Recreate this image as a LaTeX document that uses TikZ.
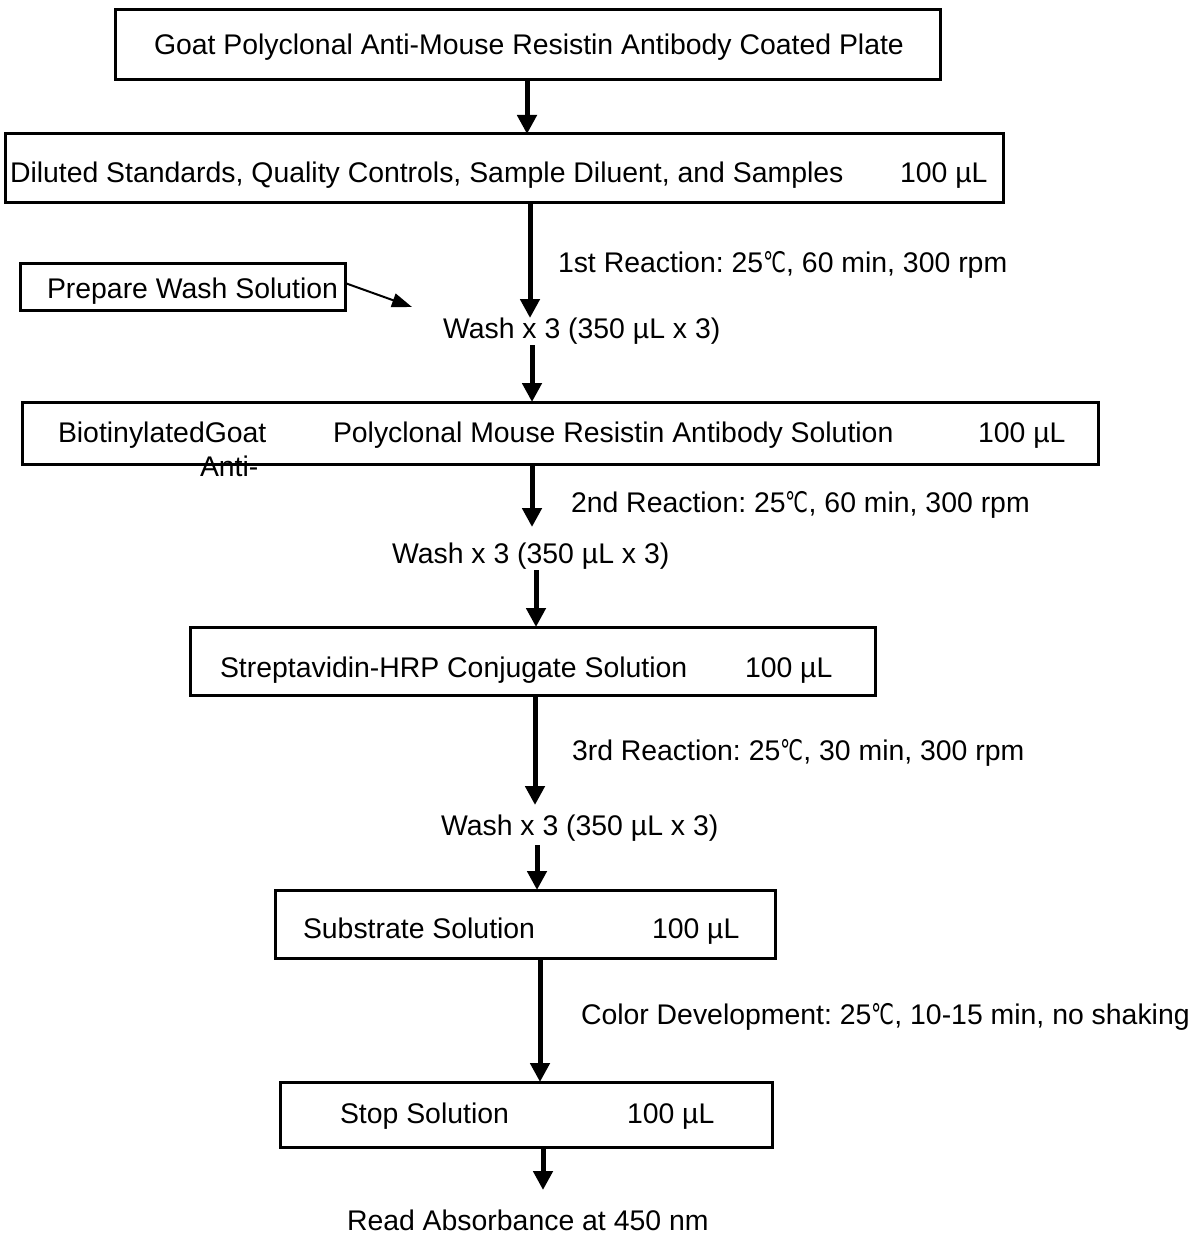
\documentclass[tikz,border=0pt]{standalone}
\usepackage{fontspec}
\usepackage{graphicx}
\setmainfont{Liberation Sans}
\newfontfamily\dvsfont{DejaVu Sans}
\usetikzlibrary{arrows.meta,calc}
\newcommand\mydegC{\scalebox{0.72}[1]{\dvsfont ℃}}
\begin{document}
\frenchspacing
\begin{tikzpicture}[x=1pt,y=-1pt,
  every node/.style={inner sep=0pt, outer sep=0pt},
  txt/.style={font=\fontsize{28.4}{34}\selectfont\frenchspacing, anchor=base west},
  box/.style={draw, line width=3pt, rectangle},
  bigarrow/.style={line width=5pt, -{Triangle[width=19pt,length=19pt]}},
  thinarrow/.style={line width=2pt, -{Triangle[width=14pt,length=20pt]}}]
\useasboundingbox (0,0) rectangle (1198,1236);
% boxes
\node[box, minimum width=825pt, minimum height=70pt] (b1) at (527.5,45) {};
\node[box, minimum width=998pt, minimum height=68pt] (b2) at (504,168) {};
\node[box, minimum width=325pt, minimum height=47pt] (pw) at (182.5,286.5) {};
\node[box, minimum width=1076pt, minimum height=62pt] (b3) at (560,433) {};
\node[box, minimum width=685pt, minimum height=68pt] (b4) at (532.5,661) {};
\node[box, minimum width=500pt, minimum height=68pt] (b5) at (525,924) {};
\node[box, minimum width=492pt, minimum height=65pt] (b6) at (526,1114.5) {};
% texts
\node[txt] (t1) at (154,55) {Goat Polyclonal Anti-Mouse Resistin Antibody Coated Plate};
\node[txt] (t2) at (10,182) {Diluted Standards, Quality Controls, Sample Diluent, and Samples};
\node[txt] (t2v) at (900,182) {100 µL};
\node[txt] (r1) at (558,272) {1st Reaction: 25\mydegC, 60 min, 300 rpm};
\node[txt] (tpw) at (47,298) {Prepare Wash Solution};
\node[txt] (w1) at (443,338) {Wash x 3 (350 µL x 3)};
\node[txt] (t3a) at (58,442) {BiotinylatedGoat};
\node[txt] (t3b) at (200,476) {Anti-};
\node[txt] (t3c) at (333,442) {Polyclonal Mouse Resistin Antibody Solution};
\node[txt] (t3v) at (978,442) {100 µL};
\node[txt] (r2) at (571,512) {2nd Reaction: 25\mydegC, 60 min, 300 rpm};
\node[txt] (w2) at (392,563) {Wash x 3 (350 µL x 3)};
\node[txt] (t4) at (220,677) {Streptavidin-HRP Conjugate Solution};
\node[txt] (t4v) at (745,677) {100 µL};
\node[txt] (r3) at (572,760) {3rd Reaction: 25\mydegC, 30 min, 300 rpm};
\node[txt] (w3) at (441,835) {Wash x 3 (350 µL x 3)};
\node[txt] (t5) at (303,938) {Substrate Solution};
\node[txt] (t5v) at (652,938) {100 µL};
\node[txt] (r4) at (581,1024) {Color Development: 25\mydegC, 10-15 min, no shaking};
\node[txt] (t6) at (340,1123) {Stop Solution};
\node[txt] (t6v) at (627,1123) {100 µL};
\node[txt] (rd) at (347,1230) {Read Absorbance at 450 nm};
% arrow columns
\coordinate (x1) at (527,0);
\coordinate (x2) at (530,0);
\coordinate (x3) at (532,0);
\coordinate (x5) at (536,0);
\coordinate (x6) at (535,0);
\coordinate (x7) at (537,0);
\coordinate (x8) at (540,0);
\coordinate (x9) at (543,0);
\coordinate (e2) at (530,318);
\coordinate (s3) at (532,345);
\coordinate (e4) at (532,527);
\coordinate (s5) at (536,570);
\coordinate (e6) at (535,805);
\coordinate (s7) at (537,845);
\coordinate (e9) at (543,1190);
\coordinate (pwend) at (412,307);
% connectors
\draw[bigarrow] (b1.south -| x1) -- (b2.north -| x1);
\draw[bigarrow] (b2.south -| x2) -- (e2);
\draw[thinarrow] (pw.east |- 0,283) -- (pwend);
\draw[bigarrow] (s3) -- (b3.north -| x3);
\draw[bigarrow] (b3.south -| x3) -- (e4);
\draw[bigarrow] (s5) -- (b4.north -| x5);
\draw[bigarrow] (b4.south -| x6) -- (e6);
\draw[bigarrow] (s7) -- (b5.north -| x7);
\draw[bigarrow] (b5.south -| x8) -- (b6.north -| x8);
\draw[bigarrow] (b6.south -| x9) -- (e9);
\end{tikzpicture}
\end{document}
